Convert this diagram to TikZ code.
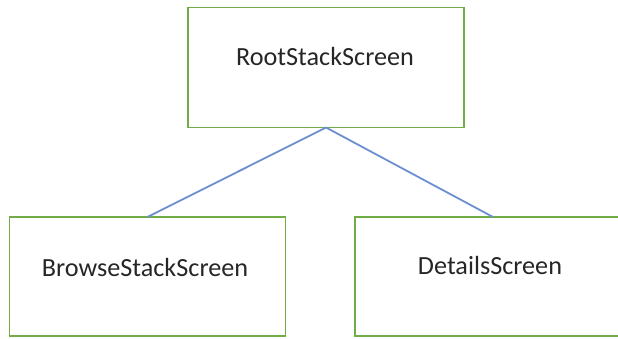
\documentclass[tikz,border=0pt]{standalone}
\usepackage{fontspec}
\setmainfont{Carlito}
\definecolor{boxgreen}{RGB}{112,173,71}
\definecolor{lineblue}{RGB}{108,143,210}
\begin{document}
\begin{tikzpicture}[x=1pt,y=-1pt,
  screenbox/.style={draw=boxgreen,line width=1.5pt,minimum width=276pt,minimum height=120pt,inner sep=0pt,outer sep=0pt},
  lbl/.style={font=\fontsize{26.2}{30}\selectfont,text=black!85,inner sep=0pt,anchor=base},
  link/.style={draw=lineblue,line width=1.8pt}]
\useasboundingbox (0,0) rectangle (618,338);
\begin{scope}
\clip (0,0) rectangle (618,338);
\node[screenbox] (root) at (326,67.5) {};
\node[screenbox,minimum height=119pt] (browse) at (147.5,276.5) {};
\node[screenbox,minimum height=119pt] (details) at (493,276.5) {};
\end{scope}
\node[lbl] (rootlbl) at (325,65) {RootStackScreen};
\node[lbl] (browselbl) at (145,276) {BrowseStackScreen};
\node[lbl] (detailslbl) at (490,274) {DetailsScreen};
\draw[link] (root.south) -- (browse.north);
\draw[link] (root.south) -- (details.north);
\end{tikzpicture}
\end{document}
